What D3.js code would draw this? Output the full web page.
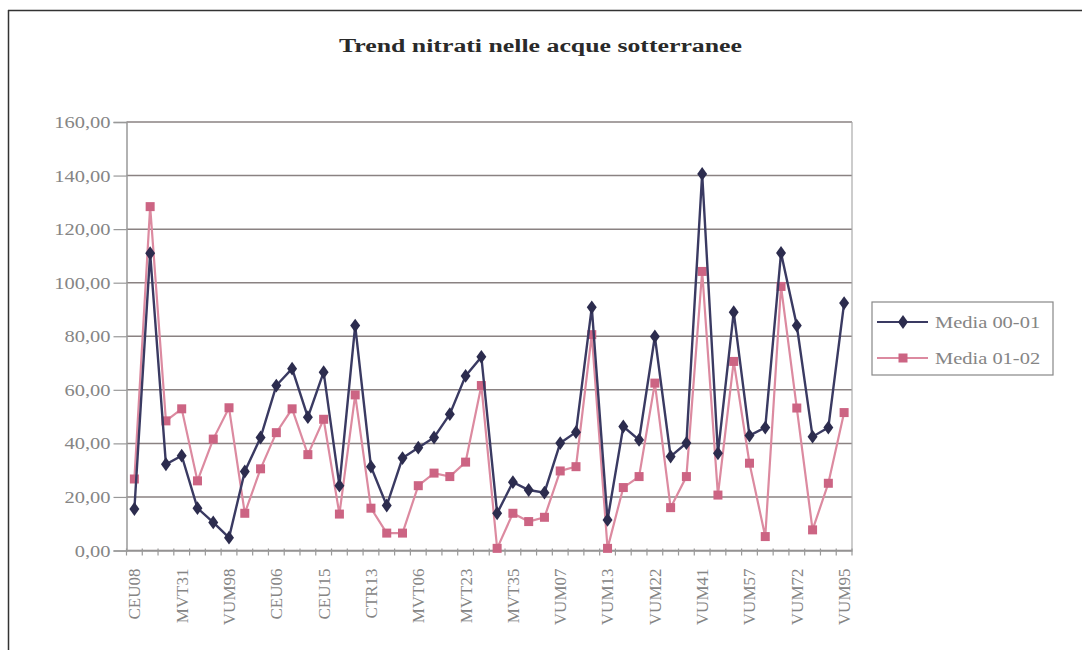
<!DOCTYPE html>
<html><head><meta charset="utf-8">
<script src="https://cdn.jsdelivr.net/npm/d3@7"></script>
<style>body{margin:0;background:#fff}svg{display:block}</style>
</head><body>
<svg id="c" width="1082" height="650"></svg>
<script>
const stationLabels = ["CEU08","","","MVT31","","","VUM98","","","CEU06","","","CEU15","","","CTR13","","","MVT06","","","MVT23","","","MVT35","","","VUM07","","","VUM13","","","VUM22","","","VUM41","","","VUM57","","","VUM72","","","VUM95"];
const media0001 = [15.5,111,32.2,35.4,15.8,10.5,4.8,29.5,42.2,61.6,67.9,49.8,66.6,24.2,84.0,31.3,16.8,34.5,38.4,42.2,50.9,65.2,72.3,13.9,25.5,22.6,21.6,40.1,44.2,90.8,11.4,46.3,41.3,79.9,35.1,40.1,140.6,36.3,89.0,42.9,45.9,111.1,84.0,42.5,45.9,92.4];
const media0102 = [26.7,128.4,48.4,52.9,26,41.6,53.3,13.9,30.5,44,52.9,35.8,49,13.6,58.1,15.8,6.5,6.5,24.2,28.9,27.6,33,61.6,0.8,13.9,10.8,12.4,29.7,31.3,80.6,0.8,23.5,27.6,62.5,16,27.6,104.2,20.7,70.6,32.6,5.2,98.6,53.2,7.7,25.1,51.5];
const yTicks = [0,20,40,60,80,100,120,140,160];
const seriesNames = ["Media 00-01","Media 01-02"];
const title = "Trend nitrati nelle acque sotterranee";

const svg = d3.select("#c");
const L = 126.5, R = 852, T = 122, B = 550.5;
const x = d3.scaleBand().domain(d3.range(stationLabels.length)).range([L, R]);
const y = d3.scaleLinear().domain([0,160]).range([B, T]);
const cx = i => x(i) + x.bandwidth()/2;
const fmt = d3.formatLocale({decimal:",", thousands:".", grouping:[3], currency:["","€"]}).format(".2f");
const serif = "'Liberation Serif','Times New Roman',serif";
const gray = "#858585";
const HS = 1.28; // horizontal stretch of horizontal texts

// frame
svg.append("line").attr("x1",8).attr("x2",1082).attr("y1",10.5).attr("y2",10.5).attr("stroke","#333").attr("stroke-width",1.5);
svg.append("line").attr("x1",8.5).attr("x2",8.5).attr("y1",10).attr("y2",650).attr("stroke","#333").attr("stroke-width",1.5);

// title
svg.append("text").attr("x",540.5).attr("y",52).attr("text-anchor","middle")
  .attr("font-family",serif).attr("font-weight","bold").attr("font-size",18).attr("fill","#2a2a2a")
  .attr("textLength",403).attr("lengthAdjust","spacingAndGlyphs").text(title);

// gridlines
svg.append("g").selectAll("line").data(yTicks).join("line")
  .attr("x1",L).attr("x2",R).attr("y1",d=>y(d)).attr("y2",d=>y(d))
  .attr("stroke","#8a8282").attr("stroke-width",1.5);
// right border
svg.append("line").attr("x1",R).attr("x2",R).attr("y1",T).attr("y2",B).attr("stroke","#aaa").attr("stroke-width",1.2);

// y axis
const yAxis = svg.append("g").attr("transform",`translate(${L},0)`)
  .call(d3.axisLeft(y).tickValues(yTicks).tickSize(13).tickFormat(fmt));
yAxis.select(".domain").attr("stroke","#999").attr("stroke-width",1.5);
yAxis.selectAll(".tick line").attr("stroke","#999").attr("stroke-width",1.2);
yAxis.selectAll(".tick text").attr("font-family",serif).attr("font-size",16).attr("fill",gray)
  .attr("x",0).attr("dy","0.35em")
  .attr("transform",`translate(-16,0) scale(${HS},1)`);

// x axis
const xAxis = svg.append("g").attr("transform",`translate(0,${B})`)
  .call(d3.axisBottom(x).tickSize(0).tickFormat(i=>stationLabels[i]));
xAxis.select(".domain").attr("stroke","#999").attr("stroke-width",1.5);
xAxis.selectAll(".tick text").attr("font-family",serif).attr("font-size",17).attr("fill",gray)
  .attr("text-anchor","end").attr("transform","rotate(-90)").attr("x",-18).attr("y",0).attr("dy","0.35em");
// boundary ticks
svg.append("g").selectAll("line").data(d3.range(stationLabels.length+1)).join("line")
  .attr("x1",i=>L + i*x.step()).attr("x2",i=>L + i*x.step())
  .attr("y1",B-2).attr("y2",B+5).attr("stroke","#999").attr("stroke-width",1.2);

// series
const blue = "#3a3a62", blueM = "#2c2c4e", pink = "#dc8aa0", pinkM = "#cc6483";
const line = d3.line().x((d,i)=>cx(i)).y(d=>y(d));
svg.append("path").datum(media0102).attr("d",line).attr("fill","none").attr("stroke",pink).attr("stroke-width",2.2);
svg.append("g").selectAll("rect").data(media0102).join("rect")
  .attr("x",(d,i)=>cx(i)-4.5).attr("y",d=>y(d)-4.5).attr("width",9).attr("height",9).attr("fill",pinkM);
svg.append("path").datum(media0001).attr("d",line).attr("fill","none").attr("stroke",blue).attr("stroke-width",2.4);
const diamond = d3.symbol().type(d3.symbolDiamond).size(55);
svg.append("g").selectAll("path").data(media0001).join("path")
  .attr("d",diamond).attr("transform",(d,i)=>`translate(${cx(i)},${y(d)}) scale(1.25,1)`).attr("fill",blueM);

// legend
const lg = svg.append("g");
lg.append("rect").attr("x",872).attr("y",302).attr("width",181).attr("height",73)
  .attr("fill","#fff").attr("stroke","#888").attr("stroke-width",1.2);
const lgItems = [{n:seriesNames[0],c:blue,m:blueM,t:"d",yy:322},{n:seriesNames[1],c:pink,m:pinkM,t:"s",yy:358}];
lgItems.forEach(it=>{
  lg.append("line").attr("x1",877).attr("x2",928).attr("y1",it.yy).attr("y2",it.yy).attr("stroke",it.c).attr("stroke-width",2);
  if(it.t==="d") lg.append("path").attr("d",diamond).attr("transform",`translate(903,${it.yy}) scale(1.25,1)`).attr("fill",it.m);
  else lg.append("rect").attr("x",898.5).attr("y",it.yy-4.5).attr("width",9).attr("height",9).attr("fill",it.m);
  lg.append("text").attr("transform",`translate(935,${it.yy}) scale(${HS},1)`).attr("dy","0.35em")
    .attr("font-family",serif).attr("font-size",16).attr("fill",gray).text(it.n);
});
</script>
</body></html>
